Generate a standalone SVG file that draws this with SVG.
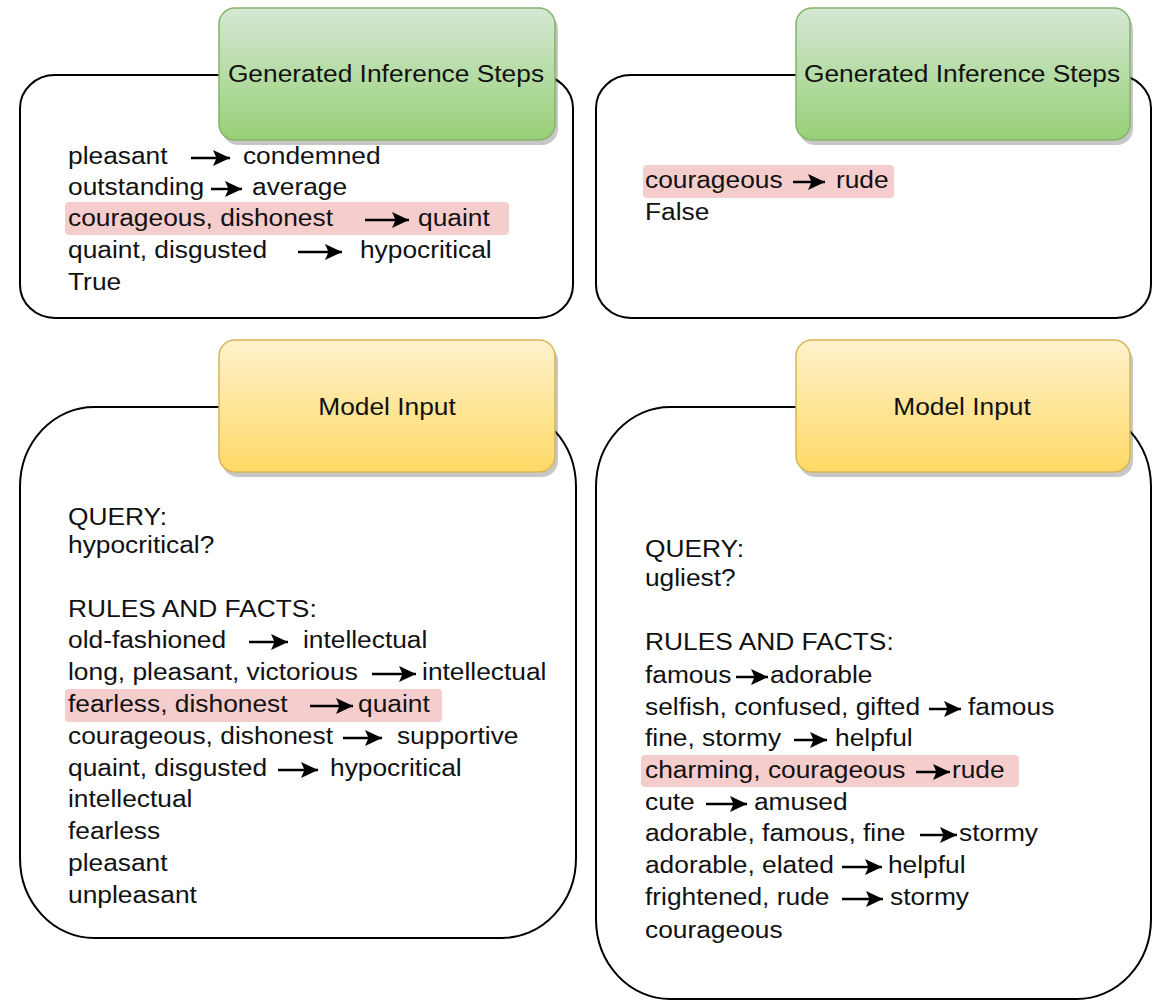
<svg xmlns="http://www.w3.org/2000/svg" width="1160" height="1000" viewBox="0 0 1160 1000">
<defs>
<linearGradient id="gGreen" x1="0" y1="0" x2="0" y2="1"><stop offset="0" stop-color="#d5e8d4"/><stop offset="1" stop-color="#97d077"/></linearGradient>
<linearGradient id="gYellow" x1="0" y1="0" x2="0" y2="1"><stop offset="0" stop-color="#fff2cc"/><stop offset="1" stop-color="#ffd966"/></linearGradient>
<marker id="ah" markerUnits="userSpaceOnUse" markerWidth="18" markerHeight="18" refX="17" refY="9" orient="auto" style="overflow:visible"><path d="M0,1 L17,9 L0,17 L3.5,9 z" fill="#000"/></marker>
<style>
.outer{fill:#fff;stroke:#000;stroke-width:2}
.shadow{fill:#000;opacity:0.22}
.green{fill:url(#gGreen);stroke:#82b366;stroke-width:1.5}
.yellow{fill:url(#gYellow);stroke:#d6b656;stroke-width:1.5}
.hl{fill:#f6cdcd}
text{font-family:"Liberation Sans",Arial,sans-serif;font-size:23px;fill:#111}
.title{text-anchor:middle}
.arr{stroke:#000;stroke-width:2.5;fill:none;marker-end:url(#ah)}
</style>
</defs>
<rect width="1160" height="1000" fill="#fff"/>

<g id="steps-left">
<rect class="outer" x="20" y="75" width="553" height="243" rx="35" ry="33"/>
<rect class="hl" x="65" y="202" width="444" height="33" rx="4"/>
<g transform="scale(1.145,1)">
<text x="59.4" y="164">pleasant</text><text x="212.2" y="164">condemned</text>
<text x="59.4" y="195">outstanding</text><text x="220.1" y="195">average</text>
<text x="59.4" y="226">courageous, dishonest</text><text x="365.1" y="226">quaint</text>
<text x="59.4" y="258">quaint, disgusted</text><text x="314.4" y="258">hypocritical</text>
<text x="59.4" y="290">True</text>
</g>
</g>
<g id="steps-left-header">
<rect class="shadow" x="222" y="13" width="336" height="132" rx="16"/>
<rect class="green" x="219" y="8" width="336" height="132" rx="16"/>
<text class="title" transform="scale(1.145,1)" x="337.1" y="82">Generated Inference Steps</text>
</g>

<g id="steps-right">
<rect class="outer" x="596" y="75" width="555" height="243" rx="35" ry="33"/>
<rect class="hl" x="643" y="165" width="251" height="33" rx="4"/>
<g transform="scale(1.145,1)">
<text x="563.3" y="188">courageous</text><text x="730.1" y="188">rude</text>
<text x="563.3" y="220">False</text>
</g>
</g>
<g id="steps-right-header">
<rect class="shadow" x="799" y="13" width="334" height="132" rx="16"/>
<rect class="green" x="796" y="8" width="334" height="132" rx="16"/>
<text class="title" transform="scale(1.145,1)" x="840.2" y="82">Generated Inference Steps</text>
</g>

<g id="input-left">
<rect class="outer" x="20" y="407" width="556" height="531" rx="74" ry="80"/>
<rect class="hl" x="65" y="689" width="377" height="33" rx="4"/>
<g transform="scale(1.145,1)">
<text x="59.4" y="525">QUERY:</text>
<text x="59.4" y="553">hypocritical?</text>
<text x="59.4" y="617">RULES AND FACTS:</text>
<text x="59.4" y="648">old-fashioned</text><text x="264.6" y="648">intellectual</text>
<text x="59.4" y="680">long, pleasant, victorious</text><text x="368.6" y="680">intellectual</text>
<text x="59.4" y="712">fearless, dishonest</text><text x="312.7" y="712">quaint</text>
<text x="59.4" y="744">courageous, dishonest</text><text x="346.7" y="744">supportive</text>
<text x="59.4" y="776">quaint, disgusted</text><text x="288.2" y="776">hypocritical</text>
<text x="59.4" y="807">intellectual</text>
<text x="59.4" y="839">fearless</text>
<text x="59.4" y="871">pleasant</text>
<text x="59.4" y="903">unpleasant</text>
</g>
</g>
<g id="input-left-header">
<rect class="shadow" x="222" y="345" width="336" height="132" rx="16"/>
<rect class="yellow" x="219" y="340" width="336" height="132" rx="16"/>
<text class="title" transform="scale(1.145,1)" x="338.0" y="415">Model Input</text>
</g>

<g id="input-right">
<rect class="outer" x="596" y="407" width="555" height="592" rx="74" ry="80"/>
<rect class="hl" x="641" y="755" width="378" height="32" rx="4"/>
<g transform="scale(1.145,1)">
<text x="563.3" y="557">QUERY:</text>
<text x="563.3" y="586">ugliest?</text>
<text x="563.3" y="650">RULES AND FACTS:</text>
<text x="563.3" y="683">famous</text><text x="672.5" y="683">adorable</text>
<text x="563.3" y="715">selfish, confused, gifted</text><text x="845.4" y="715">famous</text>
<text x="563.3" y="746">fine, stormy</text><text x="729.3" y="746">helpful</text>
<text x="563.3" y="778">charming, courageous</text><text x="831.4" y="778">rude</text>
<text x="563.3" y="810">cute</text><text x="658.5" y="810">amused</text>
<text x="563.3" y="841">adorable, famous, fine</text><text x="837.6" y="841">stormy</text>
<text x="563.3" y="873">adorable, elated</text><text x="775.5" y="873">helpful</text>
<text x="563.3" y="905">frightened, rude</text><text x="777.3" y="905">stormy</text>
<text x="563.3" y="938">courageous</text>
</g>
</g>
<g id="input-right-header">
<rect class="shadow" x="799" y="345" width="334" height="132" rx="16"/>
<rect class="yellow" x="796" y="340" width="334" height="132" rx="16"/>
<text class="title" transform="scale(1.145,1)" x="840.2" y="415">Model Input</text>
</g>

<g id="connectors">
<line class="arr" x1="191" y1="158" x2="230" y2="158"/>
<line class="arr" x1="211" y1="189" x2="242" y2="189"/>
<line class="arr" x1="365" y1="220" x2="409" y2="220"/>
<line class="arr" x1="298" y1="252" x2="342" y2="252"/>
<line class="arr" x1="793" y1="182" x2="825" y2="182"/>
<line class="arr" x1="249" y1="642" x2="288" y2="642"/>
<line class="arr" x1="372" y1="674" x2="416" y2="674"/>
<line class="arr" x1="310" y1="706" x2="353" y2="706"/>
<line class="arr" x1="343" y1="738" x2="382" y2="738"/>
<line class="arr" x1="278" y1="770" x2="318" y2="770"/>
<line class="arr" x1="736" y1="677" x2="768" y2="677"/>
<line class="arr" x1="929" y1="709" x2="961" y2="709"/>
<line class="arr" x1="794" y1="740" x2="827" y2="740"/>
<line class="arr" x1="916" y1="772" x2="950" y2="772"/>
<line class="arr" x1="706" y1="804" x2="747" y2="804"/>
<line class="arr" x1="920" y1="835" x2="957" y2="835"/>
<line class="arr" x1="842" y1="867" x2="882" y2="867"/>
<line class="arr" x1="842" y1="899" x2="883" y2="899"/>
</g>
</svg>
